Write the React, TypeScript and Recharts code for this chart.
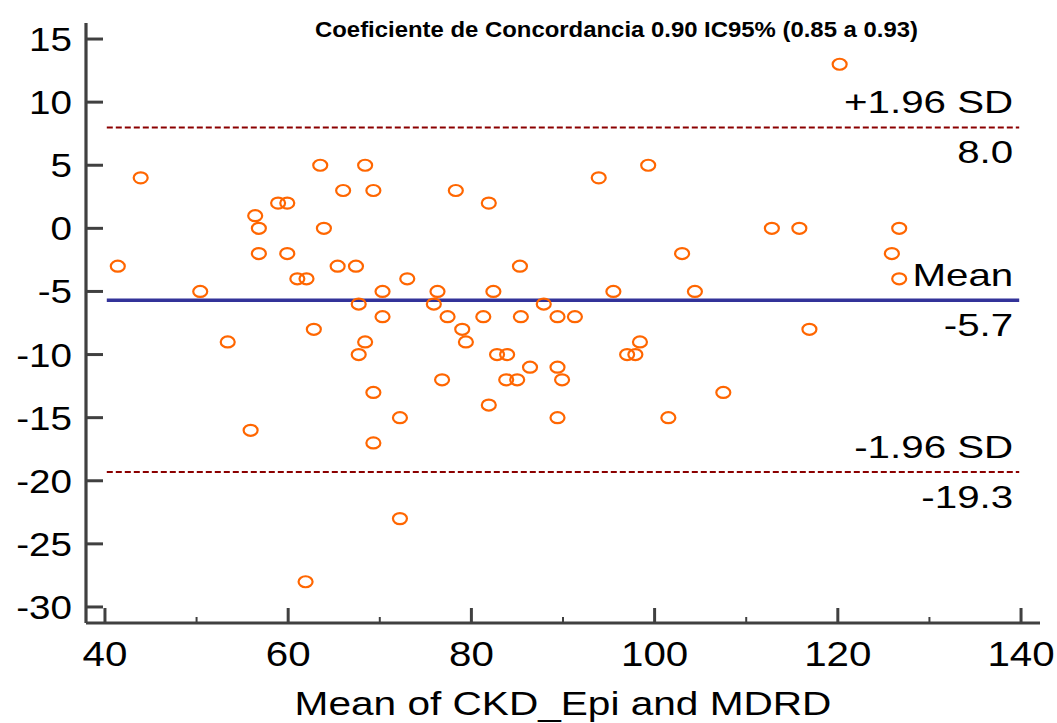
import React from "react";
import { ScatterChart, Scatter, XAxis, YAxis, ReferenceLine } from "recharts";

// mean of the two methods (x) and their difference (y), one entry per patient
const meanCkdMdrd = [
  41.4, 43.9, 50.4, 53.4, 55.9, 56.4, 56.8, 56.8, 58.9, 59.9,
  59.9, 61.0, 62.0, 61.9, 62.8, 63.5, 63.9, 65.4, 66.0, 67.4,
  67.7, 67.7, 68.4, 68.4, 69.3, 69.3, 69.3, 70.3, 70.3, 72.2,
  72.2, 73.0, 75.9, 76.3, 76.8, 77.4, 78.3, 79.0, 79.4, 81.3,
  81.9, 81.9, 82.4, 82.8, 83.9, 83.8, 85.0, 85.4, 85.3, 86.4,
  87.9, 89.4, 89.4, 89.4, 89.9, 91.3, 93.9, 95.5, 97.0, 97.9,
  98.4, 99.3, 101.5, 103.0, 104.4, 107.5, 112.8, 115.8, 116.9, 120.2,
  125.9, 126.7, 126.7,
];
const diffCkdMdrd = [
  -3, 4, -5, -9, -16, 1, 0, -2, 2, 2,
  -2, -4, -4, -28, -8, 5, 0, -3, 3, -3,
  -6, -10, 5, -9, 3, -13, -17, -5, -7, -15,
  -23, -4, -6, -5, -12, -7, 3, -8, -9, -7,
  -14, 2, -5, -10, -10, -12, -12, -7, -3, -11,
  -6, -7, -11, -15, -12, -7, 4, -5, -10, -10,
  -9, 5, -15, -2, -5, -13, 0, 0, -8, 13,
  -2, 0, -4,
];

const xTicks = [40, 50, 60, 70, 80, 90, 100, 110, 120, 130, 140];
const yTicks = [-30, -25, -20, -15, -10, -5, 0, 5, 10, 15];

const limitNames = ["+1.96 SD", "Mean", "-1.96 SD"];
const limitValues = [8.0, -5.7, -19.3];

const title = "Coeficiente de Concordancia 0.90 IC95% (0.85 a 0.93)";
const xLabel = "Mean of CKD_Epi and MDRD";

const FONT = "'Liberation Sans', Arial, Helvetica, sans-serif";
const AXIS = "#404040";

const points = meanCkdMdrd.map((m, i) => ({ x: m, y: diffCkdMdrd[i] }));

function YTick({ x, y, payload }: any) {
  return (
    <g>
      <line x1={x} x2={x + 17} y1={y} y2={y} stroke={AXIS} strokeWidth={3} />
      <text
        transform={`translate(${x - 14},${y + 12}) scale(1.17,1)`}
        textAnchor="end"
        fontSize={33}
        fontFamily={FONT}
        fill="#000"
      >
        {payload.value}
      </text>
    </g>
  );
}

function XTick({ x, y, payload }: any) {
  const major = payload.value % 20 === 0;
  return (
    <g>
      <line
        x1={x}
        x2={x}
        y1={y}
        y2={y - (major ? 15 : 6)}
        stroke={AXIS}
        strokeWidth={major ? 3 : 2}
      />
      {major && (
        <text
          transform={`translate(${x},${y + 43}) scale(1.12,1)`}
          textAnchor="middle"
          fontSize={36}
          fontFamily={FONT}
          fill="#000"
        >
          {payload.value}
        </text>
      )}
    </g>
  );
}

function AxisTitle({ viewBox }: any) {
  const cx = viewBox.x + viewBox.width / 2;
  return (
    <text
      transform={`translate(${cx},${viewBox.y + 92}) scale(1.23,1)`}
      textAnchor="middle"
      fontSize={33}
      fontFamily={FONT}
      fill="#000"
    >
      {xLabel}
    </text>
  );
}

function limitLabel(name: string, value: number) {
  return (props: any) => {
    const vb = props.viewBox || { x: 0, y: 0, width: 0 };
    const right = vb.x + vb.width - 6;
    return (
      <g>
        <text
          transform={`translate(${right},${vb.y - 14}) scale(1.26,1)`}
          textAnchor="end"
          fontSize={32}
          fontFamily={FONT}
          fill="#000"
        >
          {name}
        </text>
        <text
          transform={`translate(${right},${vb.y + 36}) scale(1.26,1)`}
          textAnchor="end"
          fontSize={32}
          fontFamily={FONT}
          fill="#000"
        >
          {value.toFixed(1)}
        </text>
      </g>
    );
  };
}

function Marker({ cx, cy }: any) {
  return (
    <ellipse cx={cx} cy={cy} rx={7} ry={5.5} fill="none" stroke="#ff6600" strokeWidth={2.2} />
  );
}

export default function App() {
  return (
    <div style={{ position: "absolute", left: 0, top: 0, width: 1057, height: 723, background: "#fff" }}>
      <ScatterChart width={1057} height={723} margin={{ top: 23, right: 17, bottom: 0, left: 0 }}>
        <XAxis
          type="number"
          dataKey="x"
          domain={[37.93, 142.07]}
          ticks={xTicks}
          interval={0}
          allowDataOverflow
          height={100}
          tickSize={0}
          tickMargin={0}
          tickLine={false}
          tick={<XTick />}
          axisLine={{ stroke: AXIS, strokeWidth: 3.2 }}
          label={{ content: AxisTitle }}
        />
        <YAxis
          type="number"
          dataKey="y"
          domain={[-31.27, 16.27]}
          ticks={yTicks}
          interval={0}
          allowDataOverflow
          width={86}
          tickSize={0}
          tickMargin={0}
          tickLine={false}
          tick={<YTick />}
          axisLine={{ stroke: AXIS, strokeWidth: 3.2 }}
        />
        <Scatter data={points} shape={<Marker />} isAnimationActive={false} />
        {limitValues.map((v, i) => (
          <ReferenceLine
            key={limitNames[i]}
            segment={[
              { x: 40.2, y: v },
              { x: 139.8, y: v },
            ]}
            stroke={i === 1 ? "#333399" : "#8b0000"}
            strokeWidth={i === 1 ? 3.5 : 2}
            strokeDasharray={i === 1 ? undefined : "6 3"}
            ifOverflow="visible"
            label={{ content: limitLabel(limitNames[i], v) }}
          />
        ))}
      </ScatterChart>
      <svg
        width={1057}
        height={50}
        style={{ position: "absolute", left: 0, top: 0, pointerEvents: "none" }}
      >
        <text
          x={616.5}
          y={37}
          textAnchor="middle"
          fontSize={22}
          fontWeight="bold"
          fontFamily="'Liberation Sans Narrow', 'Arial Narrow', 'Liberation Sans', Arial, sans-serif"
          textLength={603}
          lengthAdjust="spacingAndGlyphs"
          fill="#000"
        >
          {title}
        </text>
      </svg>
    </div>
  );
}
